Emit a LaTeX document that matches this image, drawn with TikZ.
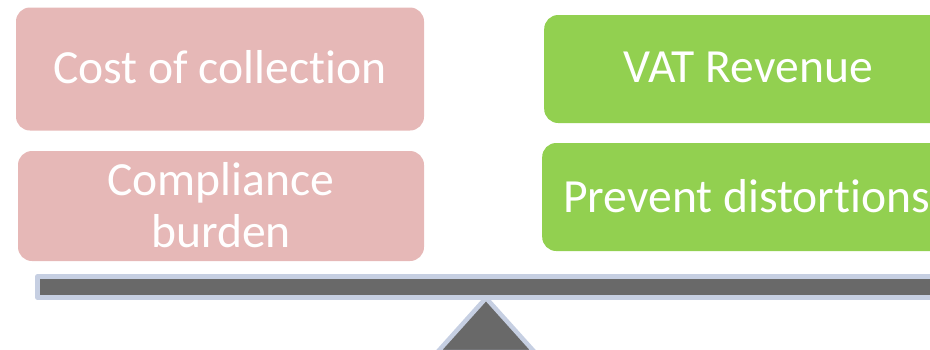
\documentclass[tikz,border=0pt]{standalone}
\usepackage{fontspec}
\setmainfont[RawFeature=-liga]{Carlito}
\definecolor{pinkbox}{HTML}{E6B8B7}
\definecolor{greenbox}{HTML}{92D050}
\definecolor{beamgray}{HTML}{696969}
\definecolor{edgeblue}{HTML}{C6CFE2}
\tikzset{
 bigtext/.style={text=white,align=center,font=\fontsize{47.6pt}{52pt}\selectfont,inner sep=0pt},
 cost/.style={bigtext,fill=pinkbox,draw=none,rounded corners=14pt},
 gain/.style={fill=greenbox,draw=none,rounded corners=14pt,inner sep=0pt},
 support/.style={fill=beamgray,draw=edgeblue,line width=4.5pt,line join=round}
}
\begin{document}
\begin{tikzpicture}[x=1pt,y=-1pt]
\useasboundingbox (0,0) rectangle (930,349);
\clip (0,0) rectangle (930,349);
\node[fill=pinkbox,rounded corners=14pt,minimum width=408pt,minimum height=123pt,inner sep=0pt] (cost) at (220,69) {};
\node[fill=pinkbox,rounded corners=14pt,minimum width=406pt,minimum height=110pt,inner sep=0pt] (comp) at (221,206) {};
\node[bigtext] (costt) at (220,67.5) {Cost of collection};
\node[bigtext] (compt) at (221,205) {Compliance\\burden};
\node[gain,minimum width=420pt,minimum height=108pt,anchor=west] (vat) at (544,69) {};
\node[gain,minimum width=420pt,minimum height=108pt,anchor=west] (dist) at (542,197) {};
\node[bigtext] (vatt) at (748,67) {VAT Revenue};
\node[bigtext,anchor=west] (distt) at (563,196) {Prevent distortions};
\draw[support] (486,298) -- (534.5,352) -- (437.5,352) -- cycle;
\node[support,minimum width=960pt,minimum height=21pt,anchor=west,inner sep=0pt] (beam) at (35,287) {};
\end{tikzpicture}
\end{document}
